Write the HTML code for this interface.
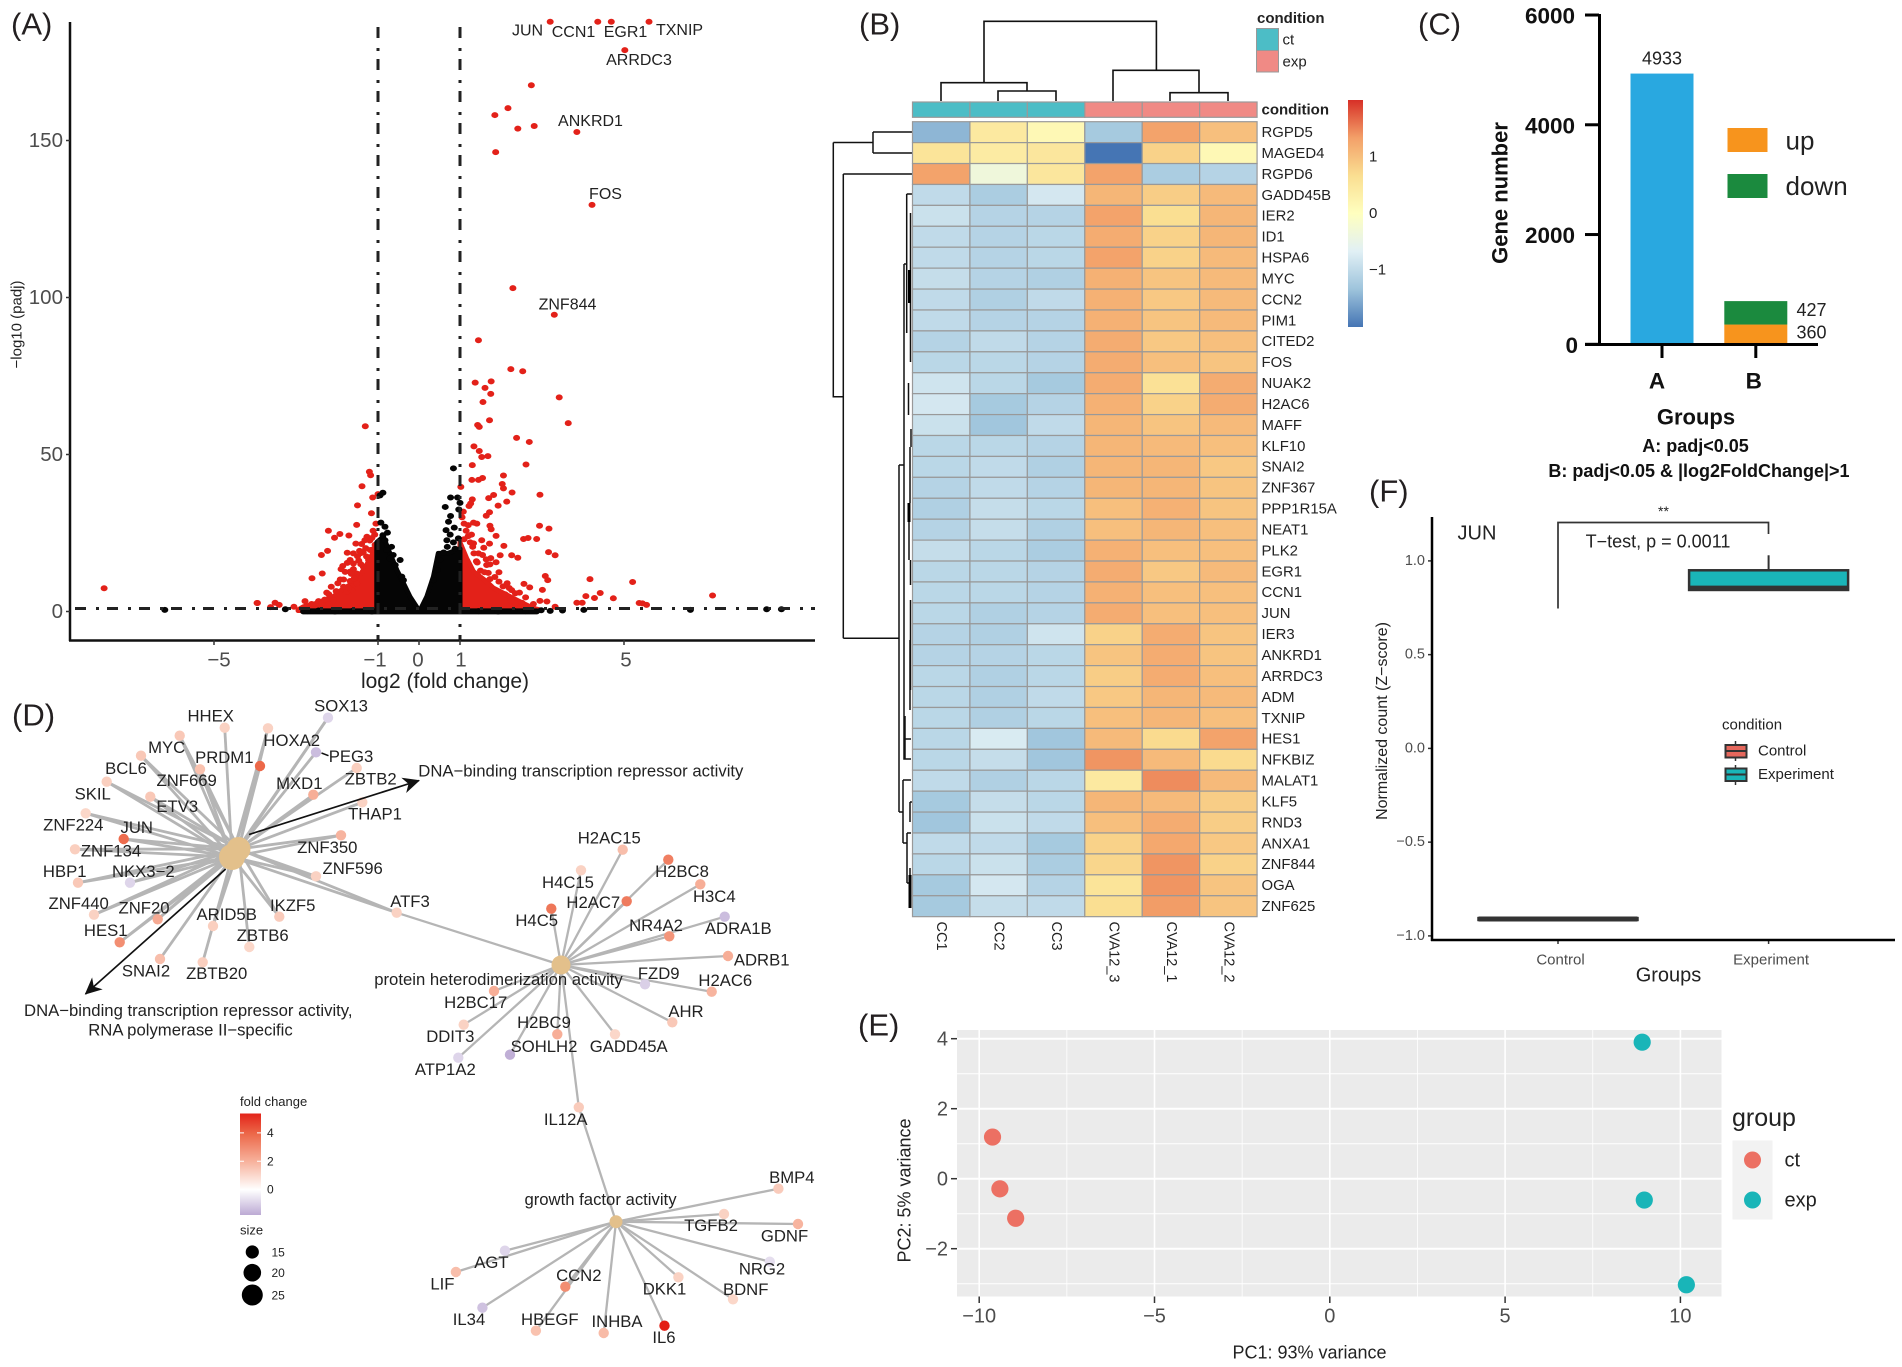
<!DOCTYPE html>
<html lang="en">
<head>
<meta charset="utf-8">
<title>Transcriptomic analysis figure panels A to F</title>
<style>
html,body{margin:0;padding:0;background:#fff}
svg{display:block;font-family:"Liberation Sans",Arial,sans-serif}
.panel-tag{font-size:31px;fill:#231f20;dominant-baseline:central}
.c{dominant-baseline:central;text-anchor:middle}
.l{dominant-baseline:central;text-anchor:start}
.r{dominant-baseline:central;text-anchor:end}
.net{font-size:16.7px;fill:#222}
</style>
</head>
<body>
<svg id="fig" xmlns="http://www.w3.org/2000/svg" width="1902" height="1367" viewBox="0 0 1902 1367">
  <rect x="0" y="0" width="1902" height="1367" fill="#ffffff"/>
  <defs>
    <marker id="arrow-head-big" markerWidth="18" markerHeight="16" refX="16" refY="8" orient="auto" markerUnits="userSpaceOnUse">
      <path d="M0 0 L17 8 L0 16 L5 8 Z" fill="#111"/>
    </marker>
    <linearGradient id="heat-gradient" x1="0" y1="0" x2="0" y2="1">
      <stop offset="0" stop-color="#d73027"/><stop offset=".167" stop-color="#f3a069"/><stop offset=".333" stop-color="#fade91"/><stop offset=".5" stop-color="#ffffbf"/><stop offset=".667" stop-color="#e1f0f5"/><stop offset=".833" stop-color="#9ec4dc"/><stop offset="1" stop-color="#4575b4"/>
    </linearGradient>
    <linearGradient id="fold-gradient" x1="0" y1="0" x2="0" y2="1">
      <stop offset="0" stop-color="#e3241a"/><stop offset=".2" stop-color="#ec6849"/><stop offset=".47" stop-color="#f7b19b"/><stop offset=".75" stop-color="#ffffff"/><stop offset="1" stop-color="#bcaad4"/>
    </linearGradient>
  </defs>

  <text class="panel-tag l" x="11" y="24">(A)</text>
  <text class="panel-tag l" x="859" y="24">(B)</text>
  <text class="panel-tag l" x="1418" y="24">(C)</text>
  <text class="panel-tag l" x="12" y="715">(D)</text>
  <text class="panel-tag l" x="858" y="1025">(E)</text>
  <text class="panel-tag l" x="1369" y="491">(F)</text>

  <g id="panel-a">
    <g id="volcano-marks"></g>
    <line x1="378" y1="27" x2="378" y2="640" stroke="#222" stroke-width="3" stroke-dasharray="11 10 3 8"/>
    <line x1="460" y1="27" x2="460" y2="640" stroke="#222" stroke-width="3" stroke-dasharray="11 10 3 8"/>
    <line x1="75" y1="608.5" x2="815" y2="608.5" stroke="#222" stroke-width="3" stroke-dasharray="11 10 3 8"/>
    <line x1="70" y1="22" x2="70" y2="641" stroke="#111" stroke-width="2.5"/>
    <line x1="69" y1="640.5" x2="815" y2="640.5" stroke="#111" stroke-width="2.5"/>
    <g id="volcano-ticks"></g>
    <text class="c" x="445" y="681.5" font-size="21" fill="#222">log2 (fold change)</text>
    <text class="c" transform="translate(17 324.5) rotate(-90)" font-size="15" fill="#222">−log10 (padj)</text>
    <g font-size="16" fill="#222">
      <text class="c" x="527.5" y="31">JUN</text>
      <text class="c" x="573.5" y="32.5">CCN1</text>
      <text class="c" x="625.5" y="32.5">EGR1</text>
      <text class="c" x="679.5" y="30.5">TXNIP</text>
      <text class="c" x="639" y="60.5">ARRDC3</text>
      <text class="c" x="590.5" y="121.5">ANKRD1</text>
      <text class="c" x="605.5" y="194.5">FOS</text>
      <text class="c" x="567.5" y="305">ZNF844</text>
    </g>
  </g>

  <g id="panel-b">
    <path fill="none" stroke="#111" stroke-width="1.6" d="M941 101 V82.7 H1027 V91 M998 101 V91 H1056 V101 M984 82.7 V21.3 H1156.4 V70.3 M1113 101 V70.3 H1199 V92.7 M1170 101 V92.7 H1228 V101"/>
    <path fill="none" stroke="#111" stroke-width="1.5" d="M833.3 142.5 V396.7 H843.3 M833.3 142.5 H873 M873 132 V153 M873 132 H912.5 M873 153 H912.5 M843.3 174 V638.3 M843.3 174 H912.5 M843.3 638.3 H899 M899 465 V812 M899 465 H904 M904 264 V759 H911 M904 264 H906.5 M906.7 194 V333 M906.7 194 H912 M905 716 V759 M905 739 H911 M899 812 H903 M903 780 V843 M903 780 H911 M903 843 H907 M907 833 V883 M907 833 H911 M907 883 H910 M910 802 V822 M910 802 H912 M910 868 V908"/>
    <path fill="none" stroke="#111" stroke-width="1.5" d="M910.5 213 V362 M908.5 383 V415 M911 429 V447 M910 447 V503 M909 503 V560 M910.5 560 V585 M910.5 600 V690 M910 640 V710"/>
    <path fill="none" stroke="#000" stroke-width="3" d="M909.5 270 V303 M909 503 V522 M910 875 V908"/>
    <g id="heatmap-cells"></g>
    <text class="l" x="1261.5" y="110" font-size="15" font-weight="bold" fill="#222">condition</text>
    <text class="l" x="1257" y="18.5" font-size="15" font-weight="bold" fill="#222">condition</text>
    <rect x="1256.5" y="28.5" width="22" height="22" fill="#4cbdc6" stroke="#999"/>
    <rect x="1256.5" y="50.5" width="22" height="21.5" fill="#f08a85" stroke="#999"/>
    <text class="l" x="1282.5" y="40" font-size="15" fill="#222">ct</text>
    <text class="l" x="1282.5" y="62" font-size="15" fill="#222">exp</text>
    <rect x="1348" y="100" width="15" height="227" fill="url(#heat-gradient)"/>
    <text class="l" x="1369" y="157" font-size="15" fill="#222">1</text>
    <text class="l" x="1369" y="213.5" font-size="15" fill="#222">0</text>
    <text class="l" x="1369" y="270" font-size="15" fill="#222">−1</text>
  </g>

  <g id="panel-c">
    <g id="bars-c"></g>
    <line x1="1599.5" y1="14" x2="1599.5" y2="346" stroke="#000" stroke-width="3"/>
    <line x1="1585" y1="344.5" x2="1818" y2="344.5" stroke="#000" stroke-width="3"/>
    <text class="c" transform="translate(1500 193) rotate(-90)" font-size="22" font-weight="bold" fill="#111">Gene number</text>
    <text class="c" x="1696" y="417" font-size="22" font-weight="bold" fill="#111">Groups</text>
    <text class="c" x="1695.5" y="446" font-size="18" font-weight="bold" fill="#111">A: padj&lt;0.05</text>
    <text class="c" x="1699" y="471" font-size="18" font-weight="bold" fill="#111">B: padj&lt;0.05 &amp; |log2FoldChange|&gt;1</text>
    <rect x="1727.5" y="128" width="40" height="24" fill="#f7941d"/>
    <rect x="1727.5" y="174" width="40" height="24" fill="#1b8a3e"/>
    <text class="l" x="1785.5" y="140.5" font-size="26" fill="#222">up</text>
    <text class="l" x="1785.5" y="186" font-size="26" fill="#222">down</text>
  </g>

  <g id="panel-d">
    <g id="network-edges"></g>
    <g id="network-nodes"></g>
    <g id="network-labels"></g>
    <line x1="321.5" y1="753" x2="328.5" y2="755.7" stroke="#111" stroke-width="1.5"/>
    <line x1="249" y1="834.5" x2="419" y2="780.5" stroke="#111" stroke-width="1.7" marker-end="url(#arrow-head-big)"/>
    <line x1="225.7" y1="869" x2="85.5" y2="994" stroke="#111" stroke-width="1.7" marker-end="url(#arrow-head-big)"/>
    <text class="l net" x="418.3" y="771">DNA−binding transcription repressor activity</text>
    <text class="c net" x="188.3" y="1010.5">DNA−binding transcription repressor activity,</text>
    <text class="c net" x="190.5" y="1030">RNA polymerase II−specific</text>
    <text class="c net" x="498.5" y="979.5">protein heterodimerization activity</text>
    <text class="c net" x="600.5" y="1199.5">growth factor activity</text>
    <text class="l" x="240" y="1101.5" font-size="13" fill="#222">fold change</text>
    <rect x="240" y="1113.5" width="21" height="101.5" fill="url(#fold-gradient)"/>
    <g id="fold-legend"></g>
    <text class="l" x="240" y="1230" font-size="13" fill="#222">size</text>
    <circle cx="252.3" cy="1252" r="6.6" fill="#000"/>
    <circle cx="252.3" cy="1272.7" r="8.8" fill="#000"/>
    <circle cx="252.3" cy="1295" r="10.5" fill="#000"/>
    <text class="l" x="271.5" y="1252.5" font-size="12" fill="#222">15</text>
    <text class="l" x="271.5" y="1273" font-size="12" fill="#222">20</text>
    <text class="l" x="271.5" y="1295.5" font-size="12" fill="#222">25</text>
  </g>

  <g id="panel-e">
    <rect x="957" y="1030" width="764.5" height="266.5" fill="#ebebeb"/>
    <g id="pca-layer"></g>
    <text class="c" x="1309.5" y="1352.5" font-size="18" fill="#222">PC1: 93% variance</text>
    <text class="c" transform="translate(904.5 1190.5) rotate(-90)" font-size="18" fill="#222">PC2: 5% variance</text>
    <text class="l" x="1732" y="1118" font-size="25" fill="#222">group</text>
    <rect x="1732.5" y="1140.5" width="40" height="79" fill="#f2f2f2"/>
    <circle cx="1752.5" cy="1160" r="8.5" fill="#ec7063"/>
    <circle cx="1752.5" cy="1200" r="8.5" fill="#19b5b8"/>
    <text class="l" x="1784.5" y="1160.5" font-size="20" fill="#222">ct</text>
    <text class="l" x="1784.5" y="1200.5" font-size="20" fill="#222">exp</text>
  </g>

  <g id="panel-f">
    <g id="box-layer"></g>
    <line x1="1432" y1="517" x2="1432" y2="941" stroke="#000" stroke-width="2.5"/>
    <line x1="1431" y1="940" x2="1895" y2="940" stroke="#000" stroke-width="2.5"/>
    <text class="c" transform="translate(1382.5 721) rotate(-90)" font-size="16" fill="#222">Normalized count (Z−score)</text>
    <text class="c" x="1668.5" y="975.5" font-size="20" fill="#222">Groups</text>
    <text class="l" x="1457.5" y="533.5" font-size="20" fill="#222">JUN</text>
    <path d="M1558 608.5 V522.5 H1768.5 V534" fill="none" stroke="#333" stroke-width="1.7"/>
    <text class="c" x="1663.5" y="511" font-size="14" fill="#222">**</text>
    <text class="c" x="1658" y="541.5" font-size="18" fill="#222">T−test, p = 0.0011</text>
    <text class="l" x="1722" y="725" font-size="15" fill="#222">condition</text>
    <path d="M1735.5 741 V761" stroke="#333" stroke-width="1.5"/>
    <rect x="1725.5" y="745" width="21" height="12.5" fill="#e5675c" stroke="#333" stroke-width="2"/>
    <line x1="1725.5" y1="751" x2="1746.5" y2="751" stroke="#333" stroke-width="2"/>
    <path d="M1735.5 765 V785" stroke="#333" stroke-width="1.5"/>
    <rect x="1725.5" y="768.5" width="21" height="12.5" fill="#1ab5b8" stroke="#333" stroke-width="2"/>
    <line x1="1725.5" y1="774.5" x2="1746.5" y2="774.5" stroke="#333" stroke-width="2"/>
    <text class="l" x="1758" y="751" font-size="15" fill="#222">Control</text>
    <text class="l" x="1758" y="774.5" font-size="15" fill="#222">Experiment</text>
  </g>
</svg>

<script>
const SVGNS = 'http://www.w3.org/2000/svg';
function add(parent, tag, attrs, text) {
  const el = document.createElementNS(SVGNS, tag);
  for (const k in attrs) el.setAttribute(k, attrs[k]);
  if (text !== undefined) el.textContent = text;
  parent.appendChild(el);
  return el;
}
</script>

<script>
/* Panel A: volcano plot values (log2 fold change, -log10 padj) */
const sigX = [3.20,4.36,4.69,5.61,5.02,2.74,2.17,1.85,2.41,2.81,3.85,1.87,4.22,2.29,3.30,1.45,2.24,2.53,
1.37,1.61,1.76,1.75,1.56,3.42,3.64,1.72,1.43,1.47,2.38,2.69,1.34,1.47,1.53,1.68,1.30,2.61,1.29,1.45,1.55,2.06,2.03,2.06,2.27,2.95,1.02,1.70,1.82,1.30,1.26,1.22,2.14,1.93,1.08,1.72,1.64,1.33,1.41,1.73,1.76,2.94,3.17,1.15,1.88,1.53,1.72,1.33,1.31,1.58,2.07,2.55,2.66,2.87,3.16,3.32,1.98,2.26,2.41,1.34,1.45,1.42,1.64,1.88,1.65,1.73,3.08,3.14,4.17,2.56,2.70,3.01,1.69,1.73,2.26,2.35,4.07,4.42,4.28,4.74,3.85,3.98,2.79,2.95,3.12,3.32,2.51,2.59,2.34,2.10,5.21,7.16,5.37,5.45,5.55,
1.10,1.20,1.25,1.40,1.50,1.60,1.85,1.95,2.05,2.20,2.45,1.55,1.75,1.10,1.05,1.20,1.28,2.60,1.95,2.25,2.15,
-7.68,-3.95,-1.31,-1.21,-1.18,-1.39,-1.13,-1.00,-1.50,-1.16,-1.52,-2.21,-1.93,-2.06,-1.71,-1.12,-1.54,-1.32,-1.27,-2.23,-2.38,-1.75,-1.60,-1.36,-1.19,-1.07,-1.68,-1.47,-1.60,-1.86,-1.68,-2.36,-2.61,-1.84,-1.68,-2.14,-2.25,-3.94,-3.62,-3.51,-3.41,-3.05,-2.78,-2.84,-2.45,-2.62,-2.37,-2.09,-1.84,-1.76,-1.64,-1.52,-1.52,-1.36,-1.23,
-1.75,-1.60,-1.50,-1.42,-1.28,-1.12,-1.55,-1.65,-1.42,-1.80,-1.92,-1.98,-2.02,-2.20,-1.72,-1.58,-1.30,-1.45,-1.90,-2.30,-2.60,-1.40,-1.20,-1.15,-1.08,-1.05];
const sigY = [187.8,187.8,187.8,187.8,178.8,167.6,160.3,158.1,153.8,154.6,152.7,146.3,129.5,103,94.5,86.4,77.2,76.5,
72.9,71.2,73.3,69.3,66.7,68.2,60,60.9,59.4,58.8,55.3,54,52.6,51.1,49.2,49.5,46.6,46.8,41.9,41.9,42.5,43.3,40.6,39.2,37.9,37.2,39.7,36.1,37.1,35.7,34.4,33.6,35,33.7,31.8,31.6,30.5,28.3,28,27.3,26.2,27.3,26.4,25.7,24.1,22.7,21.6,21.7,20.6,20.3,20.9,23.1,23.4,23.1,18.9,17.9,17.9,17.9,17.1,18.5,18.5,15.6,16.6,15.7,14.8,15,11.3,10,10.3,8.8,7.7,6.9,12.3,10.3,6.8,5.8,4.9,5.9,4.3,4.2,2.8,2.8,2.4,3.4,3.2,1.5,2.8,1.5,2.6,5.5,9.4,5.1,2.7,2.6,2.1,
28,24,22,16,13,12.5,11,9.5,8,7.5,6,18,17,23,30,27.5,24.5,4.5,12.5,3.5,9,
7.4,2.7,59,44.5,43.4,39.9,36.3,37.4,33.8,31.3,27.6,25.7,24.7,23.5,24.2,25.7,21.6,22.7,23.8,19.3,18,18.7,18.5,18.9,19.6,21.2,16.4,16.2,15.3,14.5,12.7,12.1,10.6,10.2,9.7,7.9,6,2.7,1.4,2.8,2.1,1.5,3.3,1,3.3,2.4,2.6,3.6,7.9,6.3,6.8,8.9,12.1,14.3,16.4,
15.5,13.5,17.6,18.6,17.5,19.8,11,12,15.1,12.6,10.2,9,6.5,5.5,7.6,10.5,20.2,19.3,13.5,3.8,2,21.5,22.6,23.4,24.5,28];
const nsX = [-0.88,-0.95,0.84,0.77,0.94,1.00,0.64,0.97,0.77,0.72,0.86,0.66,0.76,0.96,0.68,0.84,0.69,0.88,0.60,-0.93,-0.83,-0.77,-0.88,-0.83,-0.67,-0.79,-0.63,-0.46,-0.71,-0.58,-0.42,-0.38,0.51,0.45,0.35,
-6.20,8.48,8.84,6.62,4.02,3.50,3.20,2.98,-3.26,-2.72,-2.45,-2.05,-1.62,-1.15,1.45,1.93,2.32,2.60];
const nsY = [37.8,37,45.6,36.3,36.3,34.6,33.3,32.5,30.4,28.6,26.7,25.9,24.5,23.3,22.7,22,20.6,20,18.8,28.3,27,25.1,24.3,22.7,20.6,19.6,18,16.4,16.9,14.8,11.1,10,16.4,13.2,10,
0.5,0.7,0.7,0.5,0.5,0.3,0.2,0.4,0.7,0.1,0.3,0,0.2,0,0.1,0,0.2,0.1];
/* dense-cloud outlines */
const redLeftEdgeX = [-2.95,-2.82,-2.5,-2.09,-1.93,-1.68,-1.44,-1.27,-1.11,-1.0];
const redLeftEdgeY = [0.5,1.5,2.6,4.7,6.5,8.5,11.5,15,19,21];
const redRightEdgeX = [1.0,1.16,1.33,1.65,1.81,2.14,2.46,2.79,2.95];
const redRightEdgeY = [22,17,12.7,9.5,7.5,5.3,3.1,1,0.5];
const nsLeftEdgeX = [-1.03,-0.87,-0.71,-0.54,-0.38,-0.22,-0.01];
const nsLeftEdgeY = [22,23.8,18.5,13.2,9,4.7,0.5];
const nsRightEdgeX = [0.03,0.19,0.35,0.47,0.70,1.0];
const nsRightEdgeY = [0.5,4.7,11,18.5,18.5,20];
const baselineEdgeX = [-2.9,2.95];
const baselineTop = 1.0;
const baselineBottom = -0.9;
const volcanoXTicks = [-5,-1,0,1,5];
const volcanoYTicks = [0,50,100,150];

const vx = v => 419 + 41 * v;
const vy = v => 611.5 - 3.14 * v;
const vLabelNudge = t => (t === -5 ? 5 : t === -1 ? -3 : t === 0 ? -1 : t === 5 ? 2 : 1);
const vMarks = document.getElementById('volcano-marks');
function edgePoly(xs, ys, fill, name) {
  const pts = xs.map((x, i) => vx(x) + ',' + vy(ys[i]));
  const closeY = vy(0.3);
  pts.push(vx(xs[xs.length - 1]) + ',' + closeY);
  pts.push(vx(xs[0]) + ',' + closeY);
  const p = add(vMarks, 'polygon', {points: pts.join(' '), fill: fill, stroke: fill, 'stroke-width': 5, 'stroke-linejoin': 'round'});
  
  
}
edgePoly(redLeftEdgeX, redLeftEdgeY, '#e32119', 'dense-down-genes-cloud');
edgePoly(redRightEdgeX, redRightEdgeY, '#e32119', 'dense-up-genes-cloud');
sigX.forEach((x, i) => {
  const d = add(vMarks, 'ellipse', {cx: vx(x), cy: vy(sigY[i]), rx: 3.5, ry: 3, fill: '#e32119'});
  
  
});
const band = add(vMarks, 'rect', {x: vx(baselineEdgeX[0]), y: vy(baselineTop), width: vx(baselineEdgeX[1]) - vx(baselineEdgeX[0]), height: vy(baselineBottom) - vy(baselineTop), fill: '#050505', rx: 3});


edgePoly(nsLeftEdgeX, nsLeftEdgeY, '#050505', 'dense-left-nonsignificant-cloud');
edgePoly(nsRightEdgeX, nsRightEdgeY, '#050505', 'dense-right-nonsignificant-cloud');
nsX.forEach((x, i) => {
  const d = add(vMarks, 'ellipse', {cx: vx(x), cy: vy(nsY[i]), rx: 3.5, ry: 3, fill: '#050505'});
  
  
});
const vTicks = document.getElementById('volcano-ticks');
volcanoXTicks.forEach(t => {
  const m = add(vTicks, 'line', {x1: vx(t), x2: vx(t), y1: 640, y2: 645, stroke: '#333', 'stroke-width': 1.5});
  
  
  const l = add(vTicks, 'text', {class: 'c', x: vx(t) + vLabelNudge(t), y: 660, 'font-size': 20.5, fill: '#4d4d4d'}, String(t).replace('-', '−'));
  
  
});
volcanoYTicks.forEach(t => {
  const m = add(vTicks, 'line', {x1: 66, x2: 70, y1: vy(t), y2: vy(t), stroke: '#333', 'stroke-width': 1.5});
  
  
  const l = add(vTicks, 'text', {class: 'r', x: 63, y: vy(t), 'font-size': 20.5, fill: '#4d4d4d'}, t);
  
  
});
</script>

<script>
/* Panel B: heatmap z-scores */
const heatGenes = ['RGPD5','MAGED4','RGPD6','GADD45B','IER2','ID1','HSPA6','MYC','CCN2','PIM1','CITED2','FOS','NUAK2','H2AC6','MAFF','KLF10','SNAI2','ZNF367','PPP1R15A','NEAT1','PLK2','EGR1','CCN1','JUN','IER3','ANKRD1','ARRDC3','ADM','TXNIP','HES1','NFKBIZ','MALAT1','KLF5','RND3','ANXA1','ZNF844','OGA','ZNF625'];
const heatSamples = ['CC1','CC2','CC3','CVA12_3','CVA12_1','CVA12_2'];
const heatConditions = ['ct','ct','ct','exp','exp','exp'];
const heatValues = [
[-1.45,0.45,0.15,-1.25,1.3,1.0],[0.55,0.4,0.5,-2.0,0.8,0.15],[1.3,-0.35,0.5,1.3,-1.2,-1.1],[-1.0,-1.2,-0.8,1.1,0.85,1.05],
[-0.9,-1.1,-1.1,1.3,0.65,1.1],[-1.0,-1.1,-1.05,1.2,0.8,1.1],[-1.0,-1.1,-1.05,1.3,0.8,1.05],[-0.95,-1.1,-1.15,1.15,0.95,1.05],
[-1.0,-1.15,-1.0,1.15,0.9,1.05],[-1.0,-1.1,-1.1,1.15,0.95,1.05],[-1.1,-1.0,-1.1,1.2,0.9,1.0],[-1.05,-1.05,-1.1,1.2,1.0,0.95],
[-0.85,-1.05,-1.25,1.2,0.6,1.2],[-0.8,-1.25,-1.1,1.15,0.8,1.2],[-0.9,-1.3,-1.0,1.1,0.95,1.05],[-1.05,-1.05,-1.1,1.1,1.05,1.0],
[-1.05,-1.0,-1.15,1.1,1.1,0.9],[-1.1,-1.0,-1.1,1.1,1.1,0.95],[-1.15,-0.95,-1.05,1.0,1.15,0.95],[-1.1,-0.95,-1.15,1.0,1.1,1.0],
[-0.95,-1.05,-1.2,1.15,1.0,1.0],[-1.05,-1.05,-1.1,1.2,0.9,1.05],[-1.05,-1.05,-1.1,1.15,1.0,1.0],[-1.05,-1.15,-1.1,1.2,1.0,1.0],
[-1.1,-1.15,-0.85,0.8,1.2,0.95],[-1.1,-1.1,-1.05,0.95,1.2,0.95],[-1.05,-1.15,-1.05,0.85,1.2,1.0],[-1.05,-1.15,-1.0,0.9,1.1,1.05],
[-1.05,-1.15,-1.05,1.0,1.1,1.0],[-1.05,-0.75,-1.3,1.05,0.7,1.3],[-1.05,-0.95,-1.3,1.4,1.05,0.7],[-1.0,-1.15,-1.05,0.45,1.45,1.05],
[-1.25,-0.95,-1.05,1.1,1.05,0.85],[-1.3,-0.9,-1.0,1.0,1.2,0.85],[-1.0,-1.0,-1.25,0.8,1.25,0.9],[-1.05,-0.9,-1.2,0.75,1.4,0.8],
[-1.25,-0.8,-1.1,0.55,1.4,0.95],[-1.25,-0.95,-1.0,0.65,1.35,0.95]];
const heatStops = [[69,117,180],[158,196,220],[225,240,245],[255,255,191],[250,222,145],[243,160,105],[215,48,39]];

function heatColor(v) {
  const t = Math.max(0, Math.min(0.9999, (v + 2) / 4)) * (heatStops.length - 1);
  const i = Math.floor(t), f = t - i;
  const c = heatStops[i].map((a, k) => Math.round(a + (heatStops[i + 1][k] - a) * f));
  return 'rgb(' + c.join(',') + ')';
}
const hx = c => 912.5 + 57.43 * c;
const hy = r => 121.7 + 20.92 * r;
const conditionColor = {ct: '#4cbdc6', exp: '#f08a85'};
const hLayer = document.getElementById('heatmap-cells');
heatSamples.forEach((s, c) => {
  const bar = add(hLayer, 'rect', {x: hx(c), y: 102, width: 57.43, height: 15.3, fill: conditionColor[heatConditions[c]], stroke: '#999', 'stroke-width': 1.2});
  
  
  const lab = add(hLayer, 'text', {class: 'l', x: 0, y: 0, transform: 'translate(' + (hx(c) + 28.7) + ' 921.5) rotate(90)', 'font-size': 14.5, fill: '#222'}, s);
  
  
});
heatGenes.forEach((g, r) => {
  heatValues[r].forEach((v, c) => {
    const cell = add(hLayer, 'rect', {x: hx(c), y: hy(r), width: 57.43, height: 20.92, fill: heatColor(v), stroke: '#999', 'stroke-width': 1.2});
    
    
  });
  const lab = add(hLayer, 'text', {class: 'l', x: 1261.5, y: hy(r) + 11.3, 'font-size': 14.9, fill: '#222'}, g);
  
  
});
</script>

<script>
/* Panel C: stacked gene counts */
const barGroups = ['A','B'];
const barAllGenes = [4933,0];
const barUpGenes = [0,360];
const barDownGenes = [0,427];
const barYTicks = [0,2000,4000,6000];

const by = v => 344.3 - v * 0.05488;
const bCenter = [1662, 1755.8];
const bLayer = document.getElementById('bars-c');
function drawBar(i, from, value, fill, name) {
  const r = add(bLayer, 'rect', {x: bCenter[i] - 31.5, y: by(from + value), width: 63, height: by(from) - by(from + value), fill: fill});
  
  
}
barGroups.forEach((g, i) => {
  if (barAllGenes[i]) {
    drawBar(i, 0, barAllGenes[i], '#29a8e0', 'bar-a-total');
    const t = add(bLayer, 'text', {class: 'c', x: bCenter[i], y: by(barAllGenes[i]) - 15, 'font-size': 18, fill: '#222'}, barAllGenes[i]);
    
    
  }
  if (barUpGenes[i]) {
    drawBar(i, 0, barUpGenes[i], '#f7941d', 'bar-b-up');
    const t = add(bLayer, 'text', {class: 'l', x: 1796.5, y: by(barUpGenes[i] / 2) - 2, 'font-size': 18, fill: '#222'}, barUpGenes[i]);
    
    
  }
  if (barDownGenes[i]) {
    drawBar(i, barUpGenes[i], barDownGenes[i], '#1b8a3e', 'bar-b-down');
    const t = add(bLayer, 'text', {class: 'l', x: 1796.5, y: by(barUpGenes[i] + barDownGenes[i] / 2) - 3, 'font-size': 18, fill: '#222'}, barDownGenes[i]);
    
    
  }
  const tick = add(bLayer, 'line', {x1: bCenter[i], x2: bCenter[i], y1: 344, y2: 358, stroke: '#000', 'stroke-width': 3});
  
  
  const lab = add(bLayer, 'text', {class: 'c', x: bCenter[i] + (i ? -2 : -5), y: 381, 'font-size': 22.5, 'font-weight': 'bold', fill: '#111'}, g);
  
  
});
barYTicks.forEach(t => {
  const m = add(bLayer, 'line', {x1: 1585, x2: 1599, y1: by(t), y2: by(t), stroke: '#000', 'stroke-width': 3});
  
  
  const l = add(bLayer, 'text', {class: 'r', x: t === 0 ? 1578 : 1575, y: by(t) + 1, 'font-size': 22.5, 'font-weight': 'bold', fill: '#111'}, t);
  
  
});
</script>

<script>
/* Panel D: gene-concept network; fold change drives node colour */
const netGenes = ['SOX13','HHEX','HOXA2','PEG3','MYC','BCL6','PRDM1','ZNF669','ZBTB2','SKIL','ETV3','MXD1','THAP1','ZNF224','JUN','ZNF134','ZNF350','ZNF596','HBP1','NKX3−2','ZNF440','ZNF20','IKZF5','ARID5B','ZBTB6','HES1','SNAI2','ZBTB20','ATF3',
'H2AC15','H2BC8','H4C15','H3C4','H2AC7','H4C5','ADRA1B','NR4A2','ADRB1','FZD9','H2AC6','H2BC17','AHR','DDIT3','GADD45A','H2BC9','SOHLH2','ATP1A2','IL12A',
'BMP4','TGFB2','GDNF','NRG2','AGT','LIF','CCN2','DKK1','BDNF','IL34','HBEGF','INHBA','IL6'];
const netFold = [-0.9,1.0,1.0,-1.4,1.3,1.3,4.0,1.5,1.1,1.1,1.3,2.1,1.0,0.9,3.9,1.1,1.9,1.0,1.3,-0.9,1.0,2.2,1.2,1.1,0.9,3.0,1.6,1.1,1.0,
1.6,3.4,1.0,2.1,3.5,3.6,-1.4,2.8,2.1,-1.0,1.9,2.1,1.3,1.0,0.9,2.1,-1.7,-0.9,1.2,
1.2,1.0,1.9,-0.7,-0.9,1.6,3.0,1.0,0.9,-1.3,1.5,1.7,5.4];
const netTerms = ['repressor','repressor-rnap','heterodimerization','growth-factor'];
const netTermHubs = [[238.5,849,12],[232,857,13],[561,965,9.5],[616,1221.7,6.5]];
const netMembership = [[0,1],[1],[0,1],[0],[0,1],[0,1],[0,1],[0,1],[0],[0,1],[0,1],[0],[0],[0,1],[0,1],[0,1],[0,1],[0,1],[0,1],[0,1],[0,1],[0,1],[0,1],[0],[0],[0,1],[1],[1],[0,1,2],
[2],[2],[2],[2],[2],[2],[2],[2],[2],[2],[2],[2],[2],[2],[2],[2],[2],[2],[2,3],
[3],[3],[3],[3],[3],[3],[3],[3],[3],[3],[3],[3],[3]];
const netLayoutX = [328,224.7,268,316,179.7,141,260,200,356.7,106.7,150.3,313.3,362.3,85.7,123.7,75,341,316,78,130,94,157.7,279.3,213,249.3,119.7,160,202.7,396.7,
622.7,668.3,581,700.3,626.7,551.3,724.7,669.3,728,645,711.7,494,672.3,463.7,615,557.3,510,458.3,578.8,
778.4,724,798,769.8,504.9,455.9,565.3,678.4,733,482.4,535.9,603.7,664.5];
const netLayoutY = [717.7,727.7,728.3,752.3,735.7,755.7,766,769.3,768,781.7,796.7,794.7,802.3,813.3,839,849.3,835.3,876.3,882.7,882.7,914.7,919.3,916.7,926,947,942.3,959,962.3,912.7,
849.7,859.7,870.3,884.3,901.3,908.7,916.7,936.3,956,984.3,991.7,991,1022.3,1024.7,1034.3,1034.3,1054.7,1057.7,1107.3,
1188.7,1214,1224,1261.7,1250.7,1272,1286.7,1277.3,1299.3,1307.7,1330.7,1333,1325.7];
const netLabelX = [341,210.7,291.7,351,166.7,126,224.3,186.7,370.7,92.7,177.3,299.3,375,73.3,136.7,111,327.3,352.7,64.7,143.3,78.7,144,292.7,226.7,262.7,105.7,146,216.7,410,
609.3,682,568,714.3,593.3,536.7,738.3,656,761.7,658.7,725.3,475.7,686,450.3,628.7,544,544,445.3,565.7,
791.8,711,784.5,762,491.4,442.4,578.8,664.5,745.7,469,549.8,617,664];
const netLabelY = [706,716,740.7,756.7,747.3,768.3,757.7,780.7,779,794,806.7,783.3,814,825,827.3,851,847.3,868.3,871.7,871.7,903.3,908,905.3,914.7,935.7,930.3,971,973.7,901.7,
838,871.7,882.3,896.7,902.3,920.7,928.7,925.7,960,973.3,980.3,1002.7,1011.3,1036.7,1046.7,1022.7,1046.3,1069.7,1119.3,
1177.3,1225.7,1236,1269,1262.3,1284,1275.3,1289,1289.3,1319.3,1319.3,1321.7,1337.3];
const foldTicks = [0,2,4];
const foldStops = [[-1.8,188,170,212],[0,255,255,255],[1,250,210,195],[2,247,177,155],[3,242,142,114],[4,236,104,73],[5.4,227,30,20]];

function foldColor(v) {
  for (let i = 0; i < foldStops.length - 1; i++) {
    const a = foldStops[i], b = foldStops[i + 1];
    if (v <= b[0]) {
      const f = Math.max(0, (v - a[0]) / (b[0] - a[0]));
      return 'rgb(' + [1, 2, 3].map(k => Math.round(a[k] + (b[k] - a[k]) * f)).join(',') + ')';
    }
  }
  return 'rgb(227,30,20)';
}
const nEdges = document.getElementById('network-edges');
const nNodes = document.getElementById('network-nodes');
const nLabels = document.getElementById('network-labels');
netGenes.forEach((g, i) => {
  netMembership[i].forEach(h => {
    const hub = netTermHubs[h];
    const e = add(nEdges, 'line', {x1: hub[0], y1: hub[1], x2: netLayoutX[i], y2: netLayoutY[i], stroke: '#b5b5b5', 'stroke-width': h < 2 ? 2.8 : 2.3});
    
    
  });
});
netTermHubs.forEach((hub, i) => {
  const c = add(nNodes, 'circle', {cx: hub[0], cy: hub[1], r: hub[2], fill: '#e3c08b'});
  
  
});
netGenes.forEach((g, i) => {
  const c = add(nNodes, 'circle', {cx: netLayoutX[i], cy: netLayoutY[i], r: 5.2, fill: foldColor(netFold[i])});
  
  
  const t = add(nLabels, 'text', {class: 'c net', x: netLabelX[i], y: netLabelY[i]}, g);
  
  
});
const fLegend = document.getElementById('fold-legend');
foldTicks.forEach(t => {
  const y = 1189.7 - 14.2 * t;
  const m = add(fLegend, 'path', {d: 'M240 ' + y + ' H244 M257 ' + y + ' H261', stroke: '#fff', 'stroke-width': 1});
  
  
  const l = add(fLegend, 'text', {class: 'l', x: 267, y: y, 'font-size': 12, fill: '#222'}, t);
  
  
});
</script>

<script>
/* Panel E: PCA scores */
const pcaCtX = [-9.62,-9.41,-8.96];
const pcaCtY = [1.19,-0.29,-1.13];
const pcaExpX = [8.91,8.97,10.17];
const pcaExpY = [3.9,-0.61,-3.03];
const pcaXTicks = [-10,-5,0,5,10];
const pcaYTicks = [-2,0,2,4];
const pcaXMinor = [-7.5,-2.5,2.5,7.5];
const pcaYMinor = [-3,-1,1,3];

const px = v => 1329.8 + 35.06 * v;
const py = v => 1178.7 - 35 * v;
const pLayer = document.getElementById('pca-layer');
pcaXMinor.forEach(t => {
  const g = add(pLayer, 'line', {x1: px(t), x2: px(t), y1: 1030, y2: 1296.5, stroke: '#fff', 'stroke-width': 0.8});
  
  
});
pcaYMinor.forEach(t => {
  const g = add(pLayer, 'line', {x1: 957, x2: 1721.5, y1: py(t), y2: py(t), stroke: '#fff', 'stroke-width': 1});
  
  
});
pcaXTicks.forEach(t => {
  const g = add(pLayer, 'line', {x1: px(t), x2: px(t), y1: 1030, y2: 1296.5, stroke: '#fff', 'stroke-width': 1.6});
  
  
  const m = add(pLayer, 'line', {x1: px(t), x2: px(t), y1: 1296.5, y2: 1303, stroke: '#333', 'stroke-width': 1.5});
  
  
  const l = add(pLayer, 'text', {class: 'c', x: px(t), y: 1316.5, 'font-size': 20, fill: '#4d4d4d'}, String(t).replace('-', '−'));
  
  
});
pcaYTicks.forEach(t => {
  const g = add(pLayer, 'line', {x1: 957, x2: 1721.5, y1: py(t), y2: py(t), stroke: '#fff', 'stroke-width': 2});
  
  
  const m = add(pLayer, 'line', {x1: 951, x2: 957, y1: py(t), y2: py(t), stroke: '#333', 'stroke-width': 1.5});
  
  
  const l = add(pLayer, 'text', {class: 'r', x: 948, y: py(t) + 1, 'font-size': 20, fill: '#4d4d4d'}, String(t).replace('-', '−'));
  
  
});
pcaCtX.forEach((x, i) => {
  const c = add(pLayer, 'circle', {cx: px(x), cy: py(pcaCtY[i]), r: 8.6, fill: '#ec7063'});
  
  
});
pcaExpX.forEach((x, i) => {
  const c = add(pLayer, 'circle', {cx: px(x), cy: py(pcaExpY[i]), r: 8.6, fill: '#19b5b8'});
  
  
});
</script>

<script>
/* Panel F: JUN box plot */
const boxGroups = ['Control','Experiment'];
const boxQ1 = [-0.915,0.845];
const boxMedian = [-0.91,0.855];
const boxQ3 = [-0.905,0.95];
const boxLow = [-0.915,0.84];
const boxHigh = [-0.905,1.03];
const boxFill = ['#e5675c','#1ab5b8'];
const boxYTicks = [-1,-0.5,0,0.5,1];

const fy = v => 748.4 - 187.5 * v;
const fCenter = [1558, 1768.6];
const fLayer = document.getElementById('box-layer');
boxGroups.forEach((g, i) => {
  const w = add(fLayer, 'line', {x1: fCenter[i], x2: fCenter[i], y1: fy(boxHigh[i]), y2: fy(boxLow[i]), stroke: '#333', 'stroke-width': 2});
  
  
  const r = add(fLayer, 'rect', {x: fCenter[i] - 79.5, y: fy(boxQ3[i]), width: 159, height: fy(boxQ1[i]) - fy(boxQ3[i]), fill: boxFill[i], stroke: '#333', 'stroke-width': 2.5});
  
  
  const m = add(fLayer, 'line', {x1: fCenter[i] - 79.5, x2: fCenter[i] + 79.5, y1: fy(boxMedian[i]), y2: fy(boxMedian[i]), stroke: '#333', 'stroke-width': 5});
  
  
  const t = add(fLayer, 'line', {x1: fCenter[i], x2: fCenter[i], y1: 940, y2: 944, stroke: '#333', 'stroke-width': 1.5});
  
  
  const l = add(fLayer, 'text', {class: 'c', x: fCenter[i] + 2.5, y: 960, 'font-size': 15, fill: '#4d4d4d'}, g);
  
  
});
boxYTicks.forEach(t => {
  const m = add(fLayer, 'line', {x1: 1428, x2: 1432, y1: fy(t), y2: fy(t), stroke: '#333', 'stroke-width': 1.5});
  
  
  const l = add(fLayer, 'text', {class: 'r', x: 1425, y: fy(t), 'font-size': 14.5, fill: '#4d4d4d'}, t.toFixed(1).replace('-', '−'));
  
  
});
</script>
</body>
</html>
